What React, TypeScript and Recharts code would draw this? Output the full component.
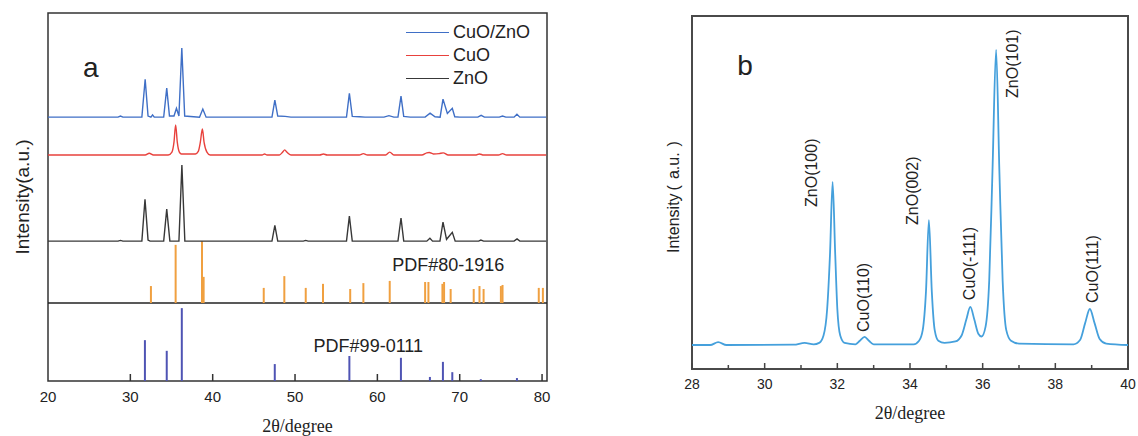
import React from 'react'
import { ComposedChart, Line, XAxis, YAxis, ReferenceLine, ReferenceArea, ReferenceDot, Legend } from 'recharts'

// Panel a: measured patterns, [2θ, intensity above the curve's own baseline]
const cuoZnoPattern: [number, number][] = [
  [20, 0], [28.5, 0], [28.8, 0.3], [29.1, 0], [31.4, 0], [31.8, 10.3], [32.15, 0.3], [32.5, 0],
  [32.7, 0.6], [32.9, 0], [34.05, 0], [34.42, 7.9], [34.75, 0.3], [35.3, 0.3], [35.6, 2.4],
  [35.9, 0.3], [36.25, 18.8], [36.6, 0.3], [38.4, 0], [38.8, 2.2], [39.2, 0], [47.2, 0],
  [47.55, 4.6], [47.9, 0.3], [48.8, 0.2], [49.5, 0], [56.25, 0], [56.6, 6.5], [56.95, 0.2],
  [57.8, 0.1], [58.5, 0], [60.8, 0], [61.4, 0.4], [62.0, 0], [62.5, 0], [62.87, 5.7], [63.2, 0.2],
  [64, 0], [65.8, 0], [66.4, 1.1], [67.0, 0.1], [67.62, 0], [67.97, 4.9], [68.5, 1.0], [69.1, 2.4],
  [69.4, 0.1], [70, 0], [72.2, 0], [72.6, 0.5], [73, 0], [74.8, 0], [75.2, 0.3], [75.6, 0],
  [76.6, 0], [76.95, 0.8], [77.3, 0], [80.5, 0],
]
const cuoPattern: [number, number][] = [
  [20, 0], [31.8, 0], [32.3, 0.5], [32.8, 0], [34.6, 0], [35.05, 0.8], [35.3, 3.5], [35.5, 8.2],
  [35.7, 3.5], [35.95, 0.8], [36.2, 0.3], [37.9, 0.3], [38.25, 1], [38.5, 3.5], [38.75, 7.1],
  [38.95, 3.5], [39.3, 0.8], [39.7, 0], [46.0, 0], [46.3, 0.3], [46.6, 0], [48.1, 0], [48.5, 0.8],
  [48.75, 1.4], [49.0, 0.8], [49.5, 0], [53.0, 0], [53.45, 0.3], [53.9, 0], [57.8, 0], [58.3, 0.4],
  [58.8, 0], [61.0, 0], [61.5, 0.8], [62.0, 0], [65.4, 0], [66.0, 0.6], [66.3, 0.7], [66.8, 0.3],
  [67.5, 0.4], [68.0, 0.6], [68.6, 0], [72.0, 0], [72.4, 0.3], [72.9, 0], [74.7, 0], [75.2, 0.4],
  [75.7, 0], [80.5, 0],
]
const znoPattern: [number, number][] = [
  [20, 0], [28.5, 0], [28.8, 0.2], [29.1, 0], [31.4, 0], [31.78, 11.4], [32.15, 0.3], [32.4, 0],
  [34.05, 0], [34.42, 8.7], [34.8, 0], [35.9, 0], [36.26, 20.7], [36.62, 0], [47.2, 0],
  [47.55, 4.3], [47.9, 0], [51.0, 0], [51.3, 0.2], [51.6, 0], [56.25, 0], [56.6, 6.8], [56.95, 0],
  [62.5, 0], [62.87, 6.3], [63.2, 0], [66.0, 0], [66.38, 0.8], [66.7, 0], [67.6, 0], [67.97, 5.2],
  [68.4, 0.5], [69.1, 2.4], [69.45, 0], [72.3, 0], [72.57, 0.3], [72.9, 0], [76.6, 0],
  [76.96, 0.6], [77.3, 0], [80.5, 0],
]
// reference cards, [2θ, relative intensity]
const pdfCuO: [number, number][] = [
  [32.5, 4.6], [35.5, 15.8], [38.7, 16.8], [38.9, 7.1], [46.2, 4.1], [48.7, 7.3], [51.3, 4.1],
  [53.4, 5.2], [56.7, 3.8], [58.3, 5.4], [61.5, 6.0], [65.8, 5.7], [66.2, 5.7], [67.9, 5.2],
  [68.1, 5.7], [68.9, 3.8], [71.7, 3.8], [72.4, 4.6], [72.9, 3.8], [75.0, 4.6], [75.2, 4.9],
  [79.6, 4.1], [80.1, 4.1],
]
const pdfZnO: [number, number][] = [
  [31.77, 11.1], [34.42, 8.2], [36.25, 19.8], [47.54, 4.6], [56.6, 6.8], [62.86, 6.3],
  [66.38, 1.1], [67.96, 5.2], [69.1, 2.4], [72.56, 0.5], [76.95, 0.8],
]
const ticksA = [20, 30, 40, 50, 60, 70, 80]
const legendOrder = ['CuO/ZnO', 'CuO', 'ZnO']

// Panel b: CuO/ZnO, [2θ, counts]
const xrdB: [number, number][] = [
  [28, 68], [28.5, 68], [28.72, 76], [28.95, 68], [30.8, 69], [31.1, 74], [31.35, 70], [31.5, 74],
  [31.62, 95], [31.72, 170], [31.8, 330], [31.87, 530], [31.94, 330], [32.0, 170], [32.08, 95],
  [32.2, 74], [32.5, 70], [32.62, 80], [32.75, 91], [32.87, 80], [33.0, 70], [34.1, 70],
  [34.25, 80], [34.35, 110], [34.44, 220], [34.52, 422], [34.6, 220], [34.68, 110], [34.78, 80],
  [34.95, 74], [35.25, 78], [35.42, 95], [35.55, 140], [35.66, 176], [35.77, 140], [35.88, 100],
  [35.97, 92], [36.08, 120], [36.18, 250], [36.27, 560], [36.37, 904], [36.46, 560], [36.55, 250],
  [36.65, 110], [36.78, 80], [37.0, 72], [38.5, 70], [38.68, 82], [38.82, 130], [38.95, 170],
  [39.08, 130], [39.22, 85], [39.4, 72], [40, 68],
]
const ticksB = [28, 29, 30, 31, 32, 33, 34, 35, 36, 37, 38, 39, 40]
const peakLabels = [
  { text: 'ZnO(100)', x: 31.3, y: 459 },
  { text: 'CuO(110)', x: 32.71, y: 105 },
  { text: 'ZnO(002)', x: 34.06, y: 408 },
  { text: 'CuO(-111)', x: 35.65, y: 195 },
  { text: 'ZnO(101)', x: 36.81, y: 768 },
  { text: 'CuO(111)', x: 39.01, y: 187 },
]

// vertical stacking of panel a
const OFFSET = { cuoZno: 71.7, cuo: 61.4, zno: 38.0, pdfCuO: 21.2, pdfZnO: 0 }

const SANS = '"Liberation Sans", Arial, sans-serif'
const SERIF = '"Liberation Serif", "Times New Roman", serif'
const INK = '#222'

const toSeries = (pts: [number, number][], offset = 0) => pts.map(([x, v]) => ({ x, y: v + offset }))

function TickA(props: any) {
  const { x, y, payload } = props
  return (
    <g>
      {payload.value > 20 && <line x1={x} x2={x} y1={y} y2={y - 7} stroke="#333" strokeWidth={1.5} />}
      <text x={x} y={y + 15} textAnchor="middle" dominantBaseline="central" fontSize={15} fontFamily={SANS} fill={INK}>
        {payload.value}
      </text>
    </g>
  )
}

function TickB(props: any) {
  const { x, y, payload } = props
  const major = payload.value % 2 === 0
  return (
    <g>
      <line x1={x} x2={x} y1={y} y2={y - (major ? 6 : 4)} stroke="#444" strokeWidth={1.5} />
      {major && (
        <text x={x} y={y + 15} textAnchor="middle" dominantBaseline="central" fontSize={14} fontFamily={SANS} fill={INK}>
          {payload.value}
        </text>
      )}
    </g>
  )
}

function XTitle(props: any) {
  const { viewBox, text, dy } = props
  return (
    <text x={viewBox.x + viewBox.width / 2} y={viewBox.y + dy} textAnchor="middle" dominantBaseline="central" fontSize={18} fontFamily={SERIF} fill={INK}>
      {text}
    </text>
  )
}

function YTitle(props: any) {
  const { viewBox, text, dx, size } = props
  const cx = viewBox.x + dx
  const cy = viewBox.y + viewBox.height / 2
  return (
    <text x={cx} y={cy} transform={`rotate(-90 ${cx} ${cy})`} textAnchor="middle" dominantBaseline="central" fontSize={size} fontFamily={SANS} fill={INK}>
      {text}
    </text>
  )
}

// panel b title: the CJK font's rotated glyphs don't render here, so the
// full-width brackets are imitated with Latin brackets and extra spacing
function YTitleB(props: any) {
  const { viewBox, word, unit, dx, start } = props
  const cx = viewBox.x + dx
  const y0 = viewBox.y + start
  return (
    <text x={cx} y={y0} transform={`rotate(-90 ${cx} ${y0})`} textAnchor="start" dominantBaseline="central" fontSize={16} fontFamily={SANS} fill={INK}>
      <tspan>{word}</tspan>
      <tspan dx={3}>(</tspan>
      <tspan dx={6}>{unit}</tspan>
      <tspan dx={6}>)</tspan>
    </text>
  )
}

const plainText = (text: string, size: number) => (p: any) => (
  <text x={p.cx} y={p.cy} textAnchor="middle" dominantBaseline="central" fontSize={size} fontFamily={SANS} fill={INK}>
    {text}
  </text>
)

const upText = (text: string) => (p: any) => (
  <text x={p.cx} y={p.cy} transform={`rotate(-90 ${p.cx} ${p.cy})`} textAnchor="start" dominantBaseline="central" fontSize={16} fontFamily={SANS} fill={INK}>
    {text}
  </text>
)

function LegendA(props: any) {
  const { payload = [] } = props
  const items = [...payload].sort((a: any, b: any) => legendOrder.indexOf(a.value) - legendOrder.indexOf(b.value))
  return (
    <div>
      {items.map((e: any) => (
        <div key={e.value} style={{ display: 'flex', alignItems: 'center', height: 23 }}>
          <span style={{ width: 43, borderTop: `1.5px solid ${e.color}`, marginRight: 4 }} />
          <span style={{ fontSize: 18, fontFamily: SANS, color: INK, lineHeight: '23px' }}>{e.value}</span>
        </div>
      ))}
    </div>
  )
}

function PanelA() {
  return (
    <ComposedChart width={560} height={436} margin={{ top: 13, right: 13, bottom: 0, left: 18 }}>
      <XAxis type="number" dataKey="x" domain={[20, 80.6]} ticks={ticksA} interval={0} allowDataOverflow
        axisLine={false} tickLine={false} tickSize={0} tickMargin={0} height={55}
        tick={<TickA />} label={<XTitle text="2θ/degree" dy={45} />} />
      <YAxis type="number" domain={[0, 100]} width={30} tick={false} axisLine={false} tickLine={false} allowDataOverflow
        label={<YTitle text="Intensity(a.u.)" dx={4} size={19} />} />
      <ReferenceArea x1={20} x2={80.6} y1={0} y2={100} fill="none" stroke="#333" strokeWidth={1.5} ifOverflow="visible" />
      <ReferenceLine y={OFFSET.pdfCuO} stroke="#222" strokeWidth={1.5} />
      {pdfCuO.map(([t, h]) => (
        <ReferenceLine key={'c' + t} segment={[{ x: t, y: OFFSET.pdfCuO }, { x: t, y: OFFSET.pdfCuO + h }]} stroke="#f0a040" strokeWidth={2} ifOverflow="visible" />
      ))}
      {pdfZnO.map(([t, h]) => (
        <ReferenceLine key={'z' + t} segment={[{ x: t, y: OFFSET.pdfZnO }, { x: t, y: OFFSET.pdfZnO + h }]} stroke="#4f54b4" strokeWidth={2} ifOverflow="visible" />
      ))}
      <Line data={toSeries(cuoZnoPattern, OFFSET.cuoZno)} dataKey="y" name="CuO/ZnO" type="linear" stroke="#3f6fc6" strokeWidth={1.4} dot={false} isAnimationActive={false} />
      <Line data={toSeries(cuoPattern, OFFSET.cuo)} dataKey="y" name="CuO" type="monotone" stroke="#e8413c" strokeWidth={1.4} dot={false} isAnimationActive={false} />
      <Line data={toSeries(znoPattern, OFFSET.zno)} dataKey="y" name="ZnO" type="linear" stroke="#383838" strokeWidth={1.4} dot={false} isAnimationActive={false} />
      <ReferenceDot x={25.2} y={85.3} r={0} shape={plainText('a', 28)} />
      <ReferenceDot x={68.6} y={31.5} r={0} shape={plainText('PDF#80-1916', 18)} />
      <ReferenceDot x={58.9} y={9.5} r={0} shape={plainText('PDF#99-0111', 18)} />
      <Legend layout="vertical" align="center" verticalAlign="middle" content={<LegendA />}
        wrapperStyle={{ left: 406, top: 21, width: 150, height: 70 }} />
    </ComposedChart>
  )
}

function PanelB() {
  return (
    <ComposedChart width={578} height={436} margin={{ top: 16, right: 10, bottom: 0, left: 92 }}>
      <XAxis type="number" dataKey="x" domain={[28, 40]} ticks={ticksB} interval={0} allowDataOverflow
        axisLine={false} tickLine={false} tickSize={0} tickMargin={0} height={67}
        tick={<TickB />} label={<XTitle text="2θ/degree" dy={44} />} />
      <YAxis type="number" domain={[0, 1000]} width={40} tick={false} axisLine={false} tickLine={false} allowDataOverflow
        label={<YTitleB word="Intensity" unit="a.u." dx={21} start={237} />} />
      <ReferenceArea x1={28} x2={40} y1={0} y2={1000} fill="none" stroke="#4a4a4a" strokeWidth={2} ifOverflow="visible" />
      <Line data={toSeries(xrdB)} dataKey="y" name="CuO/ZnO" type="monotone" stroke="#45a0dc" strokeWidth={1.8} dot={false} isAnimationActive={false} />
      <ReferenceDot x={29.46} y={861} r={0} shape={plainText('b', 28)} />
      {peakLabels.map((p) => (
        <ReferenceDot key={p.text} x={p.x} y={p.y} r={0} shape={upText(p.text)} />
      ))}
    </ComposedChart>
  )
}

export default function App() {
  return (
    <div style={{ position: 'absolute', left: 0, top: 0, width: 1138, height: 436, background: '#fff' }}>
      <div style={{ position: 'absolute', left: 0, top: 0 }}>
        <PanelA />
      </div>
      <div style={{ position: 'absolute', left: 560, top: 0 }}>
        <PanelB />
      </div>
    </div>
  )
}
